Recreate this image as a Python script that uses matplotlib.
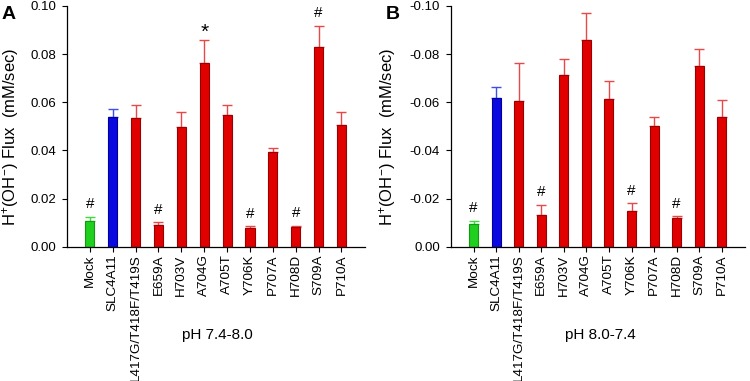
import matplotlib
matplotlib.use("Agg")
import matplotlib.pyplot as plt
import numpy as np

plt.rcParams['font.family'] = ['Liberation Sans', 'DejaVu Sans']
plt.rcParams['mathtext.fontset'] = 'custom'
plt.rcParams['mathtext.rm'] = 'Liberation Sans'
plt.rcParams['mathtext.it'] = 'Liberation Sans'

categories = ["Mock", "SLC4A11", "L417G/T418F/T419S", "E659A", "H703V", "A704G",
              "A705T", "Y706K", "P707A", "H708D", "S709A", "P710A"]

# Panel A: pH 7.4-8.0
flux_a = [0.0108, 0.0537, 0.0533, 0.0090, 0.0499, 0.0763, 0.0547, 0.0079, 0.0392, 0.0083, 0.0830, 0.0504]
err_a = [0.0017, 0.0036, 0.0054, 0.0011, 0.0059, 0.0094, 0.0040, 0.0005, 0.0019, 0.0004, 0.0087, 0.0054]
marks_a = ["#", "", "", "#", "", "*", "", "#", "", "#", "#", ""]

# Panel B: pH 8.0-7.4
flux_b = [-0.0094, -0.0616, -0.0607, -0.0132, -0.0712, -0.0859, -0.0614, -0.0148, -0.0501, -0.0119, -0.0751, -0.0540]
err_b = [0.0014, 0.0046, 0.0158, 0.0043, 0.0069, 0.0113, 0.0073, 0.0032, 0.0039, 0.0008, 0.0069, 0.0069]
marks_b = ["#", "", "", "#", "", "", "", "#", "", "#", "", ""]

bar_colors = ["#1fd01f", "#0a0ae0"] + ["#e00000"] * 10
edge_colors = ["#119911", "#000099"] + ["#990000"] * 10
err_colors = ["#40d840", "#3a50e8"] + ["#e84848"] * 10

W, H = 750, 381
fig = plt.figure(figsize=(W / 100, H / 100), dpi=100)

def make_panel(left_px, right_px, flux, err, marks, letter, group, group_x, inverted, ylab_x):
    top_px, bot_px = 6, 246.7
    ax = fig.add_axes([left_px / W, (H - bot_px) / H, (right_px - left_px) / W, (bot_px - top_px) / H])
    x = np.arange(len(categories))
    ax.bar(x, flux, width=0.4, color=bar_colors, edgecolor=edge_colors, linewidth=0.8, zorder=2)
    for i in range(len(x)):
        if inverted:
            yerr = [[err[i]], [0]]
        else:
            yerr = [[0], [err[i]]]
        ax.errorbar(x[i], flux[i], yerr=yerr, fmt='none', ecolor=err_colors[i],
                    elinewidth=1.0, capsize=3.3, capthick=1.0, zorder=1)
        if marks[i]:
            top = flux[i] - err[i] if inverted else flux[i] + err[i]
            if marks[i] == "*":
                ax.annotate(marks[i], (x[i], top), xytext=(0, -1), textcoords='offset points',
                            ha='center', va='bottom', fontsize=15)
            else:
                ax.annotate(marks[i], (x[i], top), xytext=(0, 4), textcoords='offset points',
                            ha='center', va='bottom', fontsize=11)
    ax.set_xlim(-1.0, len(categories) - 1 + 1.03)
    if inverted:
        ax.set_ylim(0, -0.10)
    else:
        ax.set_ylim(0, 0.10)
    ticks = [0, 0.02, 0.04, 0.06, 0.08, 0.10]
    if inverted:
        ticks = [-t for t in ticks]
    ax.set_yticks(ticks)
    ax.set_yticklabels(["0.00" if t == 0 else "%.2f" % t for t in ticks], fontsize=9.5)
    ax.set_xticks(x)
    ax.set_xticklabels(categories, rotation=90, fontsize=9.7)
    ax.tick_params(axis='both', direction='out', length=3.5, width=0.8, pad=2)
    ax.tick_params(axis='y', pad=4.5)
    for s in ['top', 'right']:
        ax.spines[s].set_visible(False)
    for s in ['left', 'bottom']:
        ax.spines[s].set_linewidth(0.9)
    ax.set_ylabel(r"H$^{+}$(OH$^{-}$) Flux  (mM/sec)", fontsize=12)
    ax.yaxis.set_label_coords(ylab_x, 0.458)
    fig.text(left_px / W - 0.087, 0.985, letter, fontsize=14, fontweight='bold', va='top', ha='left')
    fig.text(group_x / W, (H - 335) / H, group, fontsize=11, ha='center', va='center')
    return ax

make_panel(67, 365, flux_a, err_a, marks_a, "A", "pH 7.4-8.0", 217, False, -0.154)
make_panel(451, 745, flux_b, err_b, marks_b, "B", "pH 8.0-7.4", 600, True, -0.18)

fig.savefig("out.png", dpi=100)
